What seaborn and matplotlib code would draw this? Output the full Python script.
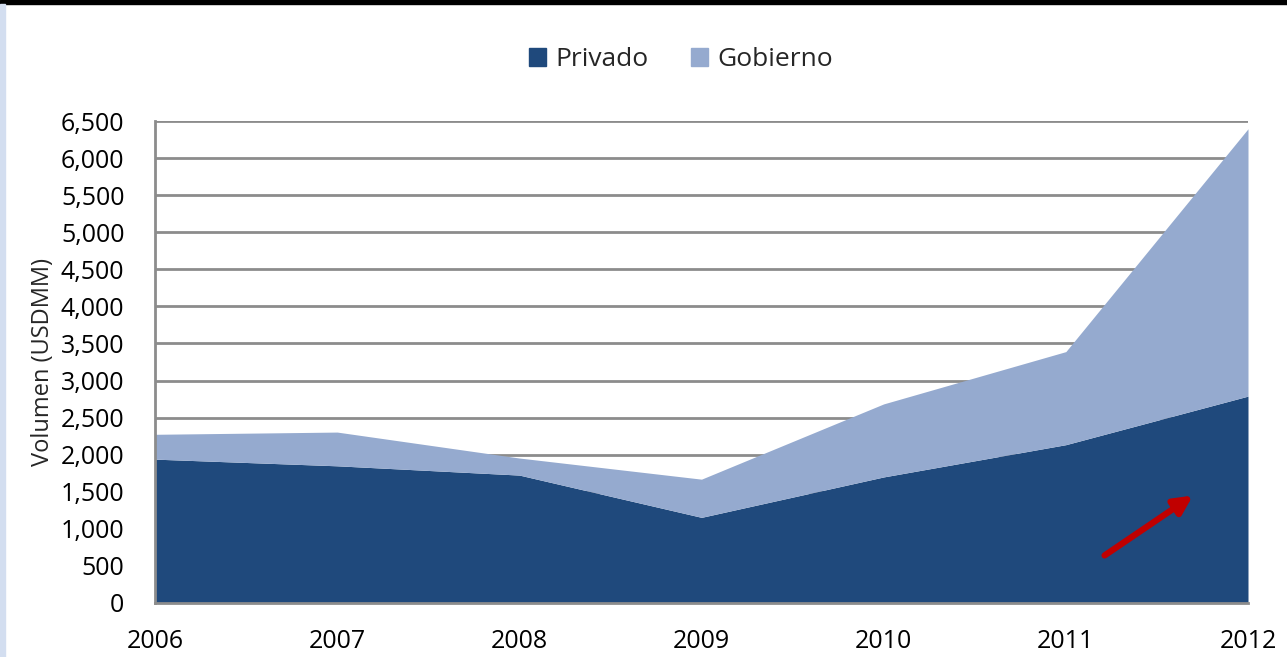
import matplotlib
matplotlib.use("Agg")
import matplotlib.pyplot as plt
import numpy as np
import seaborn as sns

years = [2006, 2007, 2008, 2009, 2010, 2011, 2012]
privado = [1940, 1850, 1725, 1155, 1700, 2135, 2790]
total = [2275, 2305, 1955, 1670, 2685, 3390, 6395]
gobierno = [t - p for t, p in zip(total, privado)]
labels = ["Privado", "Gobierno"]
yticks = list(range(0, 6501, 500))

sns.set_theme(style="white")
plt.rcParams["font.family"] = ["Open Sans", "DejaVu Sans"]

C_PRIV = "#1f497c"
C_GOB = "#95aacf"
GRID = "#8c8c8c"

fig = plt.figure(figsize=(12.87, 6.57), dpi=100)
ax = fig.add_axes([155 / 1287, 1 - 603 / 657, (1248 - 155) / 1287, (603 - 121) / 657])

for y in yticks[1:]:
    ax.axhline(y, color=GRID, linewidth=2, zorder=0)

ax.stackplot(years, privado, gobierno, colors=[C_PRIV, C_GOB],
             labels=labels, linewidth=0, zorder=2)

ax.set_xlim(2006, 2012)
ax.set_ylim(0, 6500)
ax.set_xticks(years)
ax.set_xticklabels([str(y) for y in years])
ax.set_yticks(yticks)
ax.set_yticklabels([f"{v:,}" for v in yticks])
ax.tick_params(axis="both", labelsize=18, colors=GRID, labelcolor="black",
               length=9, width=2, direction="out")
ax.tick_params(axis="x", pad=10)
ax.tick_params(axis="y", pad=13)
ax.set_ylabel("Volumen (USDMM)", fontsize=17, labelpad=4)

for side in ["top", "right"]:
    ax.spines[side].set_visible(False)
for side in ["left", "bottom"]:
    ax.spines[side].set_color(GRID)
    ax.spines[side].set_linewidth(2)
ax.spines["bottom"].set_zorder(3)

ax.annotate("", xy=(2011.71, 1470), xytext=(2011.20, 620),
            arrowprops=dict(arrowstyle="-|>,head_length=0.9,head_width=0.45",
                            color="#c00000", lw=4.5), zorder=4)

handles = [plt.Rectangle((0, 0), 1, 1, color=c) for c in (C_PRIV, C_GOB)]
fig.legend(handles, labels, loc="center", bbox_to_anchor=(681 / 1287, 1 - 60 / 657),
           ncol=2, frameon=False, fontsize=19, handlelength=0.65, handleheight=0.65,
           handletextpad=0.35, columnspacing=1.6)

# top border and left strip
fig.add_artist(plt.Rectangle((0, 1 - 4 / 657), 1, 4 / 657, transform=fig.transFigure,
                             color="black"))
fig.add_artist(plt.Rectangle((0, 0), 5 / 1287, 1 - 4 / 657, transform=fig.transFigure,
                             color="#d3def0"))

fig.savefig("out.png", dpi=100)
